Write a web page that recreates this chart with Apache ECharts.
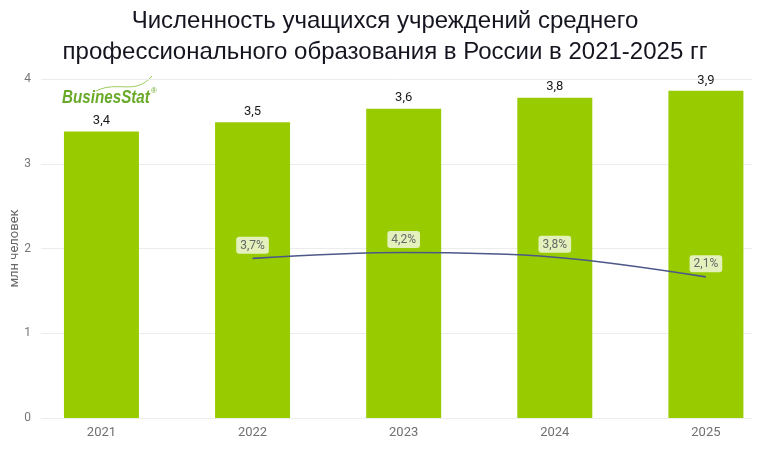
<!DOCTYPE html>
<html>
<head>
<meta charset="utf-8">
<script src="https://cdn.jsdelivr.net/npm/echarts@6/dist/echarts.min.js"></script>
<style>
  html, body { margin: 0; padding: 0; background: #fff; }
  #chart { width: 759px; height: 452px; }
</style>
</head>
<body>
<div id="chart"></div>
<script>
const years = [2021, 2022, 2023, 2024, 2025];
const students = [3.38, 3.49, 3.65, 3.78, 3.86];   // млн человек
const studentLabels = ['3,4', '3,5', '3,6', '3,8', '3,9'];
const growthYears = [2022, 2023, 2024, 2025];
const growth = [3.7, 4.2, 3.8, 2.1];               // прирост, %
const yTicks = [0, 1, 2, 3, 4];

const chart = echarts.init(document.getElementById('chart'), null, { renderer: 'canvas' });

const fmt = v => String(v).replace('.', ',');

chart.setOption({
  animation: false,
  title: {
    text: 'Численность учащихся учреждений среднего\nпрофессионального образования в России в 2021-2025 гг',
    left: 380,
    textAlign: 'center',
    top: 1,
    textStyle: {
      fontFamily: 'Liberation Sans',
      fontWeight: 'normal',
      fontSize: 24,
      lineHeight: 31,
      color: '#151520'
    }
  },
  grid: { left: 41, right: 7, top: 79, bottom: 34, outerBoundsMode: 'none' },
  xAxis: {
    type: 'value',
    min: 2020.6,
    max: 2025.305,
    axisLine: { show: false },
    axisTick: { show: false },
    splitLine: { show: false },
    axisLabel: {
      customValues: years,
      formatter: v => String(v),
      color: '#707070',
      fontFamily: 'Roboto',
      fontSize: 13,
      margin: 8
    }
  },
  yAxis: [
    {
      type: 'value',
      min: 0,
      max: 4,
      interval: 1,
      name: 'млн человек',
      nameLocation: 'middle',
      nameGap: 20,
      nameMoveOverlap: false,
      nameTextStyle: { color: '#666', fontFamily: 'Roboto', fontSize: 13 },
      axisLine: { show: false },
      axisTick: { show: false },
      axisLabel: {
        formatter: v => yTicks.includes(v) ? String(v) : '',
        color: '#777', fontFamily: 'Roboto', fontSize: 12, margin: 10
      },
      splitLine: { lineStyle: { color: '#ececec', width: 1 } }
    },
    {
      type: 'value',
      min: -10.1,
      max: 19.2,
      show: false,
      splitLine: { show: false }
    }
  ],
  series: [
    {
      type: 'bar',
      data: years.map((y, i) => [y, students[i]]),
      barWidth: 75,
      itemStyle: { color: '#99cc00' },
      label: {
        show: true,
        position: 'top',
        distance: 4,
        formatter: p => studentLabels[p.dataIndex],
        color: '#1a1a1a',
        fontFamily: 'Roboto',
        fontSize: 13
      },
      z: 2
    },
    {
      type: 'line',
      yAxisIndex: 1,
      data: growthYears.map((y, i) => [y, growth[i]]),
      smooth: 0.35,
      symbol: 'circle',
      symbolSize: 1,
      showSymbol: true,
      itemStyle: { color: 'rgba(0,0,0,0)' },
      lineStyle: { color: '#4b5888', width: 1.6 },
      label: {
        show: true,
        position: 'top',
        distance: 4,
        formatter: p => fmt(p.value[1]) + '%',
        color: '#666',
        fontFamily: 'Roboto',
        fontSize: 12,
        backgroundColor: '#e4f1bd',
        padding: [3, 4, 2, 4],
        borderRadius: 3
      },
      z: 5
    }
  ],
  graphic: [
    {
      type: 'bezierCurve',
      shape: { x1: 96, y1: 91, x2: 152, y2: 76, cpx1: 118, cpy1: 80, cpx2: 135, cpy2: 96 },
      style: { stroke: '#9acd5a', lineWidth: 1, fill: null },
      silent: true
    },
    {
      type: 'text',
      x: 62,
      y: 88,
      scaleX: 0.8,
      style: {
        x: 0,
        y: 0,
        text: 'BusinesStat',
        fill: '#6aaa2a',
        font: 'italic bold 19px "Liberation Sans"'
      }
    },
    {
      type: 'text',
      x: 151,
      y: 87,
      style: { text: '®', fill: '#6aaa2a', font: '8px "Liberation Sans"' }
    }
  ]
});
</script>
</body>
</html>
